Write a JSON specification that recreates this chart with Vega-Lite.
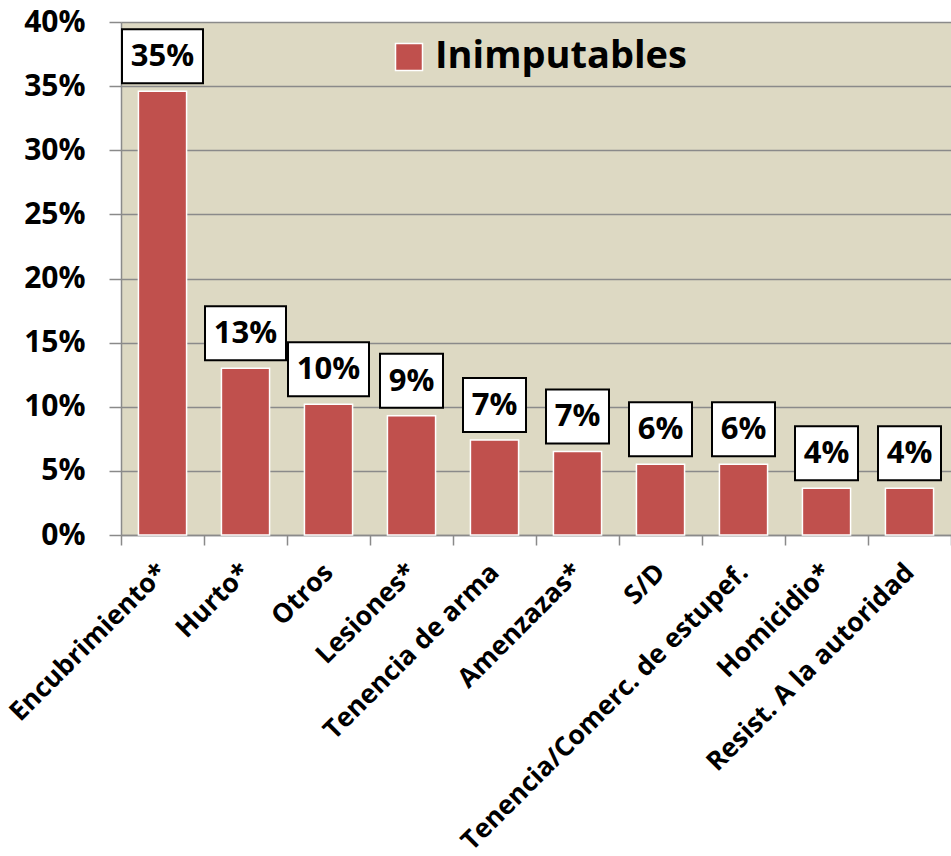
{
  "$schema": "https://vega.github.io/schema/vega-lite/v6.json",
  "width": 830,
  "height": 513,
  "autosize": "none",
  "padding": {"left": 121, "top": 22, "right": 0, "bottom": 321},
  "background": "white",
  "config": {
    "view": {"fill": "#DDD9C3", "stroke": null},
    "font": "Open Sans",
    "axis": {"labelFont": "Open Sans", "labelFontWeight": "bold", "labelColor": "black", "title": null}
  },
  "data": {
    "values": [
      {"cat": "Encubrimiento*", "v": 0.346, "serie": "Inimputables"},
      {"cat": "Hurto*", "v": 0.130, "serie": "Inimputables"},
      {"cat": "Otros", "v": 0.102, "serie": "Inimputables"},
      {"cat": "Lesiones*", "v": 0.093, "serie": "Inimputables"},
      {"cat": "Tenencia de arma", "v": 0.074, "serie": "Inimputables"},
      {"cat": "Amenzazas*", "v": 0.0652, "serie": "Inimputables"},
      {"cat": "S/D", "v": 0.0552, "serie": "Inimputables"},
      {"cat": "Tenencia/Comerc. de estupef.", "v": 0.0552, "serie": "Inimputables"},
      {"cat": "Homicidio*", "v": 0.0364, "serie": "Inimputables"},
      {"cat": "Resist. A la autoridad", "v": 0.0364, "serie": "Inimputables"}
    ]
  },
  "encoding": {
    "x": {
      "field": "cat", "type": "nominal", "sort": null,
      "scale": {"paddingInner": 0, "paddingOuter": 0},
      "axis": {
        "labelAngle": -45, "labelAlign": "right", "labelBaseline": "middle",
        "labelFontSize": 26.5, "labelPadding": 23, "labelLimit": 0,
        "tickBand": "extent", "tickSize": 10, "tickColor": "#8a8a8a", "tickWidth": 1.5,
        "domainColor": "#8a8a8a", "domainWidth": 1.5, "grid": false
      }
    },
    "y": {
      "field": "v", "type": "quantitative",
      "scale": {"domain": [0, 0.4], "nice": false},
      "axis": {
        "format": ".0%", "values": [0, 0.05, 0.1, 0.15, 0.2, 0.25, 0.3, 0.35, 0.4],
        "labelFontSize": 30, "labelPadding": 24, "tickSize": 12,
        "tickColor": "#8a8a8a", "tickWidth": 1.5,
        "domainColor": "#8a8a8a", "domainWidth": 1.5,
        "gridColor": "#8a8a8a", "gridWidth": 1.5
      }
    }
  },
  "layer": [
    {
      "mark": {"type": "bar", "width": {"band": 0.58}, "stroke": "white", "strokeWidth": 1.5},
      "encoding": {
        "color": {
          "field": "serie", "type": "nominal",
          "scale": {"range": ["#C0504D"]},
          "legend": {
            "orient": "none", "legendX": 269, "legendY": 16, "title": null,
            "symbolType": "square", "symbolSize": 729,
            "symbolStrokeColor": "white", "symbolStrokeWidth": 1.5,
            "labelFontSize": 38, "labelFont": "Open Sans", "labelFontWeight": "bold",
            "labelColor": "black", "labelLimit": 0, "labelOffset": 7
          }
        }
      }
    },
    {
      "transform": [{"filter": "datum.v >= 0.095"}],
      "mark": {"type": "point", "shape": "M-1,-0.667H1V0.667H-1Z", "size": 6561, "filled": true, "fill": "white", "stroke": "black", "strokeWidth": 2, "opacity": 1, "yOffset": -35}
    },
    {
      "transform": [{"filter": "datum.v < 0.095"}],
      "mark": {"type": "point", "shape": "M-1,-0.857H1V0.857H-1Z", "size": 3969, "filled": true, "fill": "white", "stroke": "black", "strokeWidth": 2, "opacity": 1, "yOffset": -35}
    },
    {
      "mark": {"type": "text", "font": "Open Sans", "fontSize": 31, "fontWeight": "bold", "color": "black", "baseline": "middle", "align": "center", "yOffset": -34},
      "encoding": {"text": {"field": "v", "type": "quantitative", "format": ".0%"}}
    }
  ]
}
